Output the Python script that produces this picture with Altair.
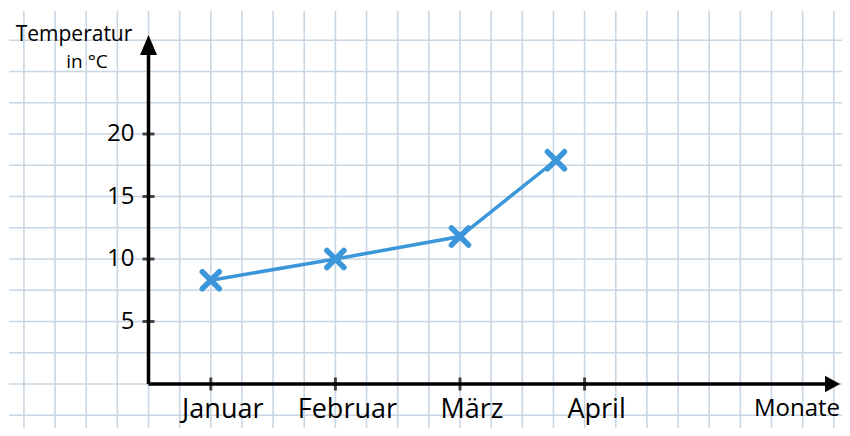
import altair as alt
import numpy as np
import pandas as pd

# ---- data ----
months = ["Januar", "Februar", "März", "April"]
month_pos = [0.5, 1.5, 2.5, 3.5]          # tick positions on the month axis
point_pos = [0.5, 1.5, 2.5, 3.27]         # where the crosses were drawn
temps = [8.3, 10.0, 11.8, 17.9]           # temperature in °C
y_ticks = [5, 10, 15, 20]
y_tick_labels = ["5", "10", "15", "20"]

FONT = "Open Sans"
BLUE = "#3b97d9"
GRID = "#c9d6e4"

W, H = 834, 420
px_per_month = 124.6
px_per_deg = 12.5
ox, oy = 140.5, 376.0
x_dom = [-ox / px_per_month, (W - ox) / px_per_month]
y_dom = [-(H - oy) / px_per_deg, oy / px_per_deg]

xs = alt.Scale(domain=x_dom, nice=False, zero=False)
ys = alt.Scale(domain=y_dom, nice=False, zero=False)

grid_x = [round(v, 2) for v in np.arange(-1.0, 5.51, 0.25)]
grid_y = [round(v, 2) for v in np.arange(-2.5, 27.51, 2.5)]

pts = pd.DataFrame({"x": point_pos, "t": temps})
mdf = pd.DataFrame({"x": month_pos, "label": months, "y": [0] * len(months)})
ydf = pd.DataFrame({"y": y_ticks, "label": y_tick_labels, "x": [0] * len(y_ticks)})

X_END, Y_END = 5.45, 27.0
X_ARROW, Y_ARROW = 5.49, 27.12


def X(f="x:Q"):
    return alt.X(f, scale=xs, axis=None)


def Y(f="y:Q"):
    return alt.Y(f, scale=ys, axis=None)


vgrid = alt.Chart(pd.DataFrame({"x": grid_x})).mark_rule(color=GRID, strokeWidth=1.6).encode(
    x=X(), y=alt.value(3), y2=alt.value(H))
hgrid = alt.Chart(pd.DataFrame({"y": grid_y})).mark_rule(color=GRID, strokeWidth=1.6).encode(
    y=Y(), x=alt.value(1), x2=alt.value(W))

line = alt.Chart(pts).mark_line(color=BLUE, strokeWidth=3.5).encode(x=X(), y=Y("t:Q"))
crosses = alt.Chart(pts).mark_point(
    shape="M-1,-1L1,1M-1,1L1,-1", filled=False, color=BLUE, strokeWidth=5.5,
    strokeCap="round", size=290, opacity=1,
).encode(x=X(), y=Y("t:Q"))

axes_df = pd.DataFrame({"x": [0, 0], "x2": [X_END, 0], "y": [0, 0], "y2": [0, Y_END]})
axes = alt.Chart(axes_df).mark_rule(color="black", strokeWidth=3.5).encode(
    x=X(), x2="x2:Q", y=Y(), y2="y2:Q")
y_arrow = alt.Chart(pd.DataFrame({"x": [0], "y": [Y_ARROW]})).mark_point(
    shape="M0,-1L0.85,1L-0.85,1Z", filled=True, color="black", size=400, opacity=1
).encode(x=X(), y=Y())
x_arrow = alt.Chart(pd.DataFrame({"x": [X_ARROW], "y": [0]})).mark_point(
    shape="M1,0L-1,-1.1L-1,1.1Z", filled=True, color="black", size=225, opacity=1
).encode(x=X(), y=Y())

x_ticks = alt.Chart(mdf).mark_tick(orient="vertical", color="black", thickness=3, size=13).encode(
    x=X(), y=Y())
y_tick_marks = alt.Chart(ydf).mark_tick(orient="horizontal", color="black", thickness=3, size=12).encode(
    x=X(), y=Y())

x_labels = alt.Chart(mdf).mark_text(font=FONT, fontSize=27, color="black", dx=12, dy=34,
                                    baseline="alphabetic", align="center").encode(
    x=X(), y=Y(), text="label:N")
y_labels = alt.Chart(ydf).mark_text(font=FONT, fontSize=24, color="black", dx=-14,
                                    baseline="middle", align="right").encode(
    x=X(), y=Y(), text="label:N")

t1 = alt.Chart(pd.DataFrame({"s": ["Temperatur"]})).mark_text(
    font=FONT, fontSize=21, color="black", align="center", baseline="alphabetic"
).encode(x=alt.value(66), y=alt.value(33), text="s:N")
t2 = alt.Chart(pd.DataFrame({"s": ["in °C"]})).mark_text(
    font=FONT, fontSize=19, color="black", align="center", baseline="alphabetic"
).encode(x=alt.value(79), y=alt.value(60), text="s:N")
t3 = alt.Chart(pd.DataFrame({"s": ["Monate"]})).mark_text(
    font=FONT, fontSize=24, color="black", align="center", baseline="alphabetic"
).encode(x=alt.value(789), y=alt.value(408), text="s:N")

chart = alt.layer(
    vgrid, hgrid, line, axes, x_ticks, y_tick_marks, y_arrow, x_arrow, crosses,
    x_labels, y_labels, t1, t2, t3
).properties(
    width=W, height=H, padding=0, autosize=alt.AutoSizeParams(type="none"), background="white"
).configure_view(stroke=None)

chart.save("out.html", embed_options={"renderer": "svg", "actions": False})
